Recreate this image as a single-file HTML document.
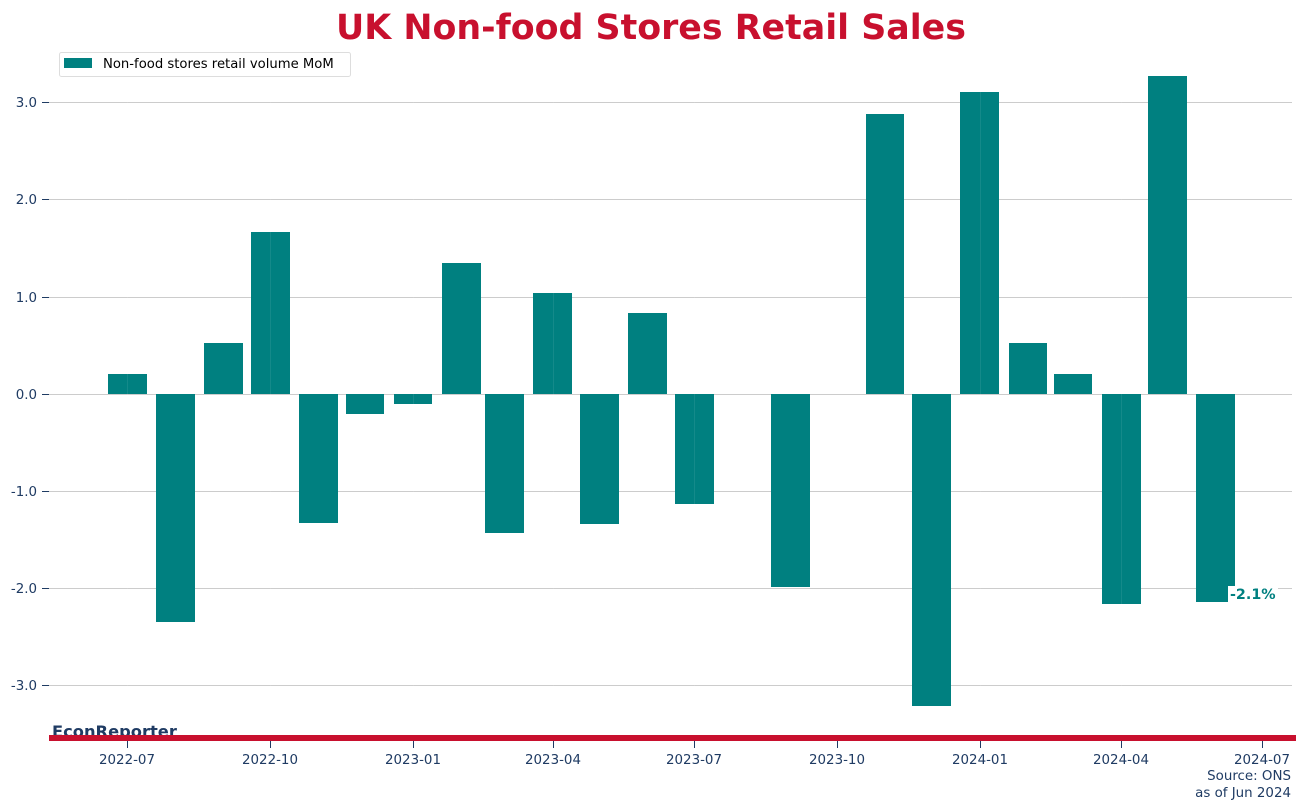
<!DOCTYPE html>
<html><head><meta charset="utf-8"><style>
html,body{margin:0;padding:0;background:#fff}
svg{display:block;font-family:"DejaVu Sans","Liberation Sans",sans-serif}
</style></head><body>
<svg width="1301" height="810" viewBox="0 0 1301 810" xmlns="http://www.w3.org/2000/svg">
<text x="651" y="39" text-anchor="middle" font-size="34.8" font-weight="bold" fill="#c8102e">UK Non-food Stores Retail Sales</text>
<g stroke="#cccccc" stroke-width="1">
<line x1="49" x2="1292" y1="102.5" y2="102.5"/>
<line x1="49" x2="1292" y1="199.5" y2="199.5"/>
<line x1="49" x2="1292" y1="297.5" y2="297.5"/>
<line x1="49" x2="1292" y1="394.5" y2="394.5"/>
<line x1="49" x2="1292" y1="491.5" y2="491.5"/>
<line x1="49" x2="1292" y1="588.5" y2="588.5"/>
<line x1="49" x2="1292" y1="685.5" y2="685.5"/>
</g>
<g stroke="#1f3b63" stroke-width="1">
<line x1="42" x2="49" y1="102.5" y2="102.5"/>
<line x1="42" x2="49" y1="199.5" y2="199.5"/>
<line x1="42" x2="49" y1="297.5" y2="297.5"/>
<line x1="42" x2="49" y1="394.5" y2="394.5"/>
<line x1="42" x2="49" y1="491.5" y2="491.5"/>
<line x1="42" x2="49" y1="588.5" y2="588.5"/>
<line x1="42" x2="49" y1="685.5" y2="685.5"/>
</g>
<g font-size="13.4" fill="#1f3b63" text-anchor="end">
<text x="37" y="107">3.0</text>
<text x="37" y="204">2.0</text>
<text x="37" y="302">1.0</text>
<text x="37" y="399">0.0</text>
<text x="37" y="496">-1.0</text>
<text x="37" y="593">-2.0</text>
<text x="37" y="690">-3.0</text>
</g>
<g fill="#008080">
<rect x="108" y="374" width="39" height="20"/>
<rect x="156" y="394" width="39" height="228"/>
<rect x="204" y="343" width="39" height="51"/>
<rect x="251" y="232" width="39" height="162"/>
<rect x="299" y="394" width="39" height="129"/>
<rect x="346" y="394" width="38" height="20"/>
<rect x="394" y="394" width="38" height="10"/>
<rect x="442" y="263" width="39" height="131"/>
<rect x="485" y="394" width="39" height="139"/>
<rect x="533" y="293" width="39" height="101"/>
<rect x="580" y="394" width="39" height="130"/>
<rect x="628" y="313" width="39" height="81"/>
<rect x="675" y="394" width="39" height="110"/>
<rect x="771" y="394" width="39" height="193"/>
<rect x="866" y="114" width="38" height="280"/>
<rect x="912" y="394" width="39" height="312"/>
<rect x="960" y="92" width="39" height="302"/>
<rect x="1009" y="343" width="38" height="51"/>
<rect x="1054" y="374" width="38" height="20"/>
<rect x="1102" y="394" width="39" height="210"/>
<rect x="1148" y="76" width="39" height="318"/>
<rect x="1196" y="394" width="39" height="208"/>
</g>
<g stroke="#ffffff" stroke-opacity="0.08" stroke-width="1">
<line x1="127.5" x2="127.5" y1="60" y2="735"/><line x1="270.5" x2="270.5" y1="60" y2="735"/>
<line x1="413.5" x2="413.5" y1="60" y2="735"/><line x1="553.5" x2="553.5" y1="60" y2="735"/>
<line x1="694.5" x2="694.5" y1="60" y2="735"/><line x1="980.5" x2="980.5" y1="60" y2="735"/>
<line x1="1121.5" x2="1121.5" y1="60" y2="735"/>
</g>
<rect x="1228" y="586" width="50" height="16" fill="#fff"/>
<text x="1230" y="599" font-size="14.3" font-weight="bold" fill="#008080">-2.1%</text>
<rect x="59.5" y="52.5" width="291" height="24" rx="2" fill="#fff" stroke="#dddddd"/>
<rect x="64" y="58" width="28" height="10" fill="#008080"/>
<text x="103" y="68" font-size="13.2" fill="#000">Non-food stores retail volume MoM</text>
<text x="52" y="737" font-size="16.3" font-weight="bold" fill="#1f3b63">EconReporter</text>
<rect x="49" y="735" width="1247" height="6" fill="#c8102e"/>
<g stroke="#1f3b63" stroke-width="1">
<line x1="127.5" x2="127.5" y1="741" y2="748"/><line x1="270.5" x2="270.5" y1="741" y2="748"/>
<line x1="413.5" x2="413.5" y1="741" y2="748"/><line x1="553.5" x2="553.5" y1="741" y2="748"/>
<line x1="694.5" x2="694.5" y1="741" y2="748"/><line x1="837.5" x2="837.5" y1="741" y2="748"/>
<line x1="980.5" x2="980.5" y1="741" y2="748"/><line x1="1121.5" x2="1121.5" y1="741" y2="748"/>
<line x1="1262.5" x2="1262.5" y1="741" y2="748"/>
</g>
<g font-size="13.4" fill="#1f3b63" text-anchor="middle">
<text x="127" y="764">2022-07</text><text x="270" y="764">2022-10</text>
<text x="413" y="764">2023-01</text><text x="553" y="764">2023-04</text>
<text x="694" y="764">2023-07</text><text x="837" y="764">2023-10</text>
<text x="980" y="764">2024-01</text><text x="1121" y="764">2024-04</text>
<text x="1262" y="764">2024-07</text>
</g>
<g font-size="13.4" fill="#1f3b63" text-anchor="end">
<text x="1291" y="780">Source: ONS</text>
<text x="1291" y="797">as of Jun 2024</text>
</g>
</svg>
</body></html>
